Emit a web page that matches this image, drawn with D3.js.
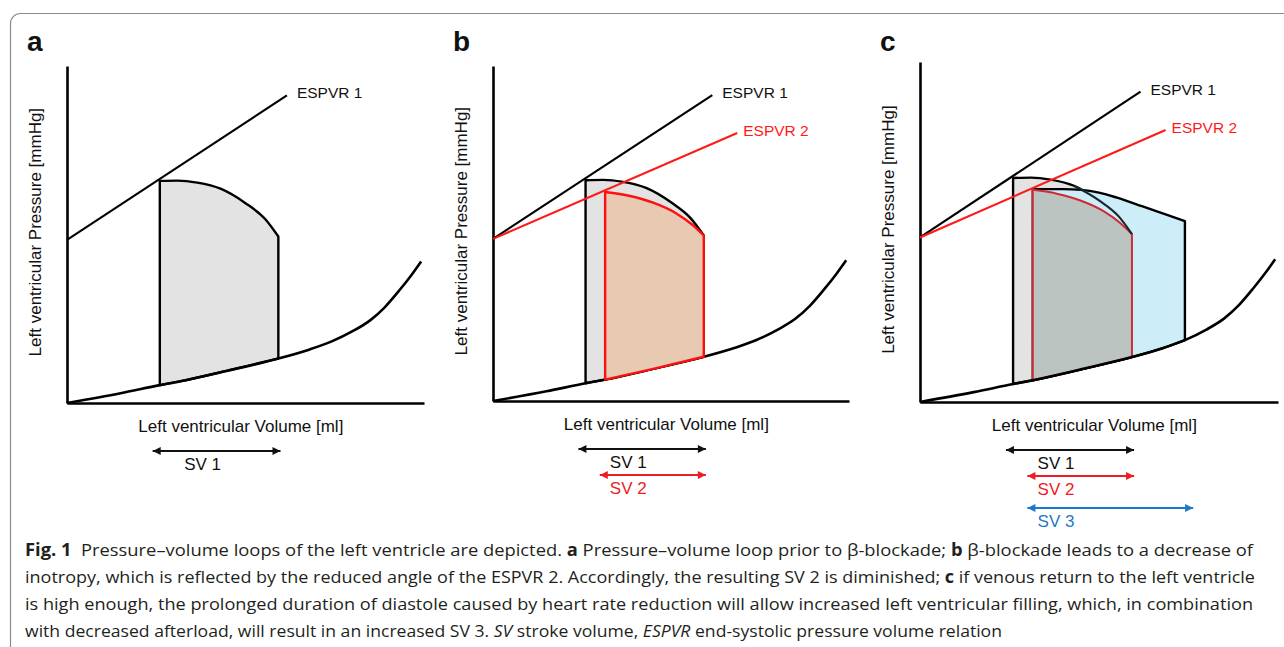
<!DOCTYPE html>
<html>
<head>
<meta charset="utf-8">
<script src="https://cdn.jsdelivr.net/npm/d3@7"></script>
<style>
  body { margin: 0; background: #fff; }
  svg { display: block; }
</style>
</head>
<body>
<div id="chart"></div>
<script>
// volume and pressure in relative units, 0-100 along each axis
const edpvr = [[0, 0], [15, 2.9], [26, 5.3], [31.5, 6.4], [45, 9.6], [59.2, 13.2], [68, 15.9],
  [74, 18.2], [80, 21.3], [85, 24.6], [89, 28.4], [93, 33.3], [96.5, 38], [99.2, 42]]

const espvr1 = [[0, 48.4], [61.6, 91.3]]
const espvr2 = [[0, 48.4], [68.6, 80]]

const loop1Top = [[26, 65.9], [31, 66], [36.5, 65.4], [43, 63.6], [50, 59.3], [55.5, 54.6], [59.2, 49.4]]
const loop2Top = [[31.5, 62.4], [38.5, 61.2], [45, 59.2], [51.5, 56], [56, 52.6], [59.2, 49.4]]
const loop3Top = [[31.5, 62.6], [40, 62.6], [45, 62.4], [50, 61.6], [55, 60.1], [62, 57.6], [68, 55.4], [74, 53.2]]

const strokeVolumes = [
  { label: "SV 1", from: 24, to: 59.8, color: "#111" },
  { label: "SV 2", from: 30, to: 59.8, color: "#ee1c24" },
  { label: "SV 3", from: 30, to: 76.3, color: "#1f78c9" }
]

const captionLines = [
  [["b", "Fig. 1"], ["n", "  Pressure–volume loops of the left ventricle are depicted. "], ["b", "a"], ["n", " Pressure–volume loop prior to β-blockade; "], ["b", "b"], ["n", " β-blockade leads to a decrease of"]],
  [["n", "inotropy, which is reflected by the reduced angle of the ESPVR 2. Accordingly, the resulting SV 2 is diminished; "], ["b", "c"], ["n", " if venous return to the left ventricle"]],
  [["n", "is high enough, the prolonged duration of diastole caused by heart rate reduction will allow increased left ventricular filling, which, in combination"]],
  [["n", "with decreased afterload, will result in an increased SV 3. "], ["i", "SV"], ["n", " stroke volume, "], ["i", "ESPVR"], ["n", " end-systolic pressure volume relation"]]
]
const captionWidths = [1228, 1230, 1228, 977]

const panels = [
  { key: "a", x0: 67, x1: 424, y0: 403, y1: 66, sv: 1 },
  { key: "b", x0: 493, x1: 849, y0: 401, y1: 66, sv: 2 },
  { key: "c", x0: 920, x1: 1278, y0: 402, y1: 62, sv: 3 }
]

const W = 1284, H = 647
const FONT = "'Liberation Sans', Arial, sans-serif"

const svg = d3.select("#chart").append("svg")
  .attr("width", W)
  .attr("height", H)

const defs = svg.append("defs")
strokeVolumes.forEach((s, i) => {
  defs.append("marker")
    .attr("id", "arr" + i)
    .attr("viewBox", "0 0 10 10")
    .attr("refX", 10)
    .attr("refY", 5)
    .attr("markerUnits", "userSpaceOnUse")
    .attr("markerWidth", 9)
    .attr("markerHeight", 8)
    .attr("orient", "auto-start-reverse")
    .append("path")
    .attr("d", "M 0 0 L 10 5 L 0 10 z")
    .attr("fill", s.color)
})

// frame
svg.append("rect")
  .attr("x", 10.5)
  .attr("y", 13.5)
  .attr("width", 1300)
  .attr("height", 680)
  .attr("rx", 10)
  .attr("fill", "none")
  .attr("stroke", "#8a8a8a")
  .attr("stroke-width", 1.2)

function drawPanel(p) {
  const x = d3.scaleLinear().domain([0, 100]).range([p.x0, p.x1])
  const y = d3.scaleLinear().domain([0, 100]).range([p.y0, p.y1])
  const g = svg.append("g")

  const line = d3.line().x(d => x(d[0])).y(d => y(d[1])).curve(d3.curveMonotoneX)
  const straight = d3.line().x(d => x(d[0])).y(d => y(d[1]))

  function loopPath(top) {
    const left = top[0][0], right = top[top.length - 1][0]
    const bottom = edpvr.filter(d => d[0] >= left && d[0] <= right)
    const bl = bottom[0], br = bottom[bottom.length - 1]
    return `M${x(bl[0])},${y(bl[1])}` +
      line(top).replace(/^M/, "L") +
      `L${x(br[0])},${y(br[1])}` +
      line(bottom.slice().reverse()).replace(/^M/, "L") + "Z"
  }

  function drawLoop(top, fill, stroke, width) {
    g.append("path")
      .attr("d", loopPath(top))
      .attr("fill", fill)
      .attr("stroke", stroke)
      .attr("stroke-width", width)
      .attr("stroke-linejoin", "round")
  }

  function drawEdpvr() {
    g.append("path")
      .attr("d", line(edpvr))
      .attr("fill", "none")
      .attr("stroke", "#000")
      .attr("stroke-width", 2.6)
  }

  // axes without ticks
  g.append("g")
    .attr("transform", `translate(0,${p.y0})`)
    .call(d3.axisBottom(x).ticks(0).tickSizeOuter(0))
    .call(a => a.select(".domain").attr("stroke", "#000").attr("stroke-width", 2.6))
  g.append("g")
    .attr("transform", `translate(${p.x0},0)`)
    .call(d3.axisLeft(y).ticks(0).tickSizeOuter(0))
    .call(a => a.select(".domain").attr("stroke", "#000").attr("stroke-width", 2.6))

  if (p.key === "a") {
    drawLoop(loop1Top, "#e3e3e3", "#000", 2.4)
    drawEdpvr()
  } else if (p.key === "b") {
    drawLoop(loop1Top, "#e3e3e3", "#000", 2.4)
    drawEdpvr()
    drawLoop(loop2Top, "#e8cab3", "#ff0f0f", 2.4)
  } else {
    drawLoop(loop1Top, "#e3e3e3", "#000", 2.4)
    drawLoop(loop3Top, "#cdeef9", "#000", 2.4)
    drawLoop(loop2Top, "#bbc4c0", "#cf2b36", 2)
    g.append("path")
      .attr("d", line(loop1Top.filter(d => d[0] >= 43)))
      .attr("fill", "none")
      .attr("stroke", "#142c33")
      .attr("stroke-width", 2.2)
    drawEdpvr()
  }

  // ESPVR lines
  const esp = [{ data: espvr1, label: "ESPVR 1", color: "#000", dx: 10 }]
  if (p.key !== "a") esp.push({ data: espvr2, label: "ESPVR 2", color: "#ff1a1a", dx: 6 })
  esp.forEach(e => {
    g.append("path")
      .attr("d", straight(e.data))
      .attr("fill", "none")
      .attr("stroke", e.color)
      .attr("stroke-width", 2.1)
    const end = e.data[e.data.length - 1]
    g.append("text")
      .attr("x", x(end[0]) + e.dx)
      .attr("y", y(end[1]) + 3)
      .attr("font-family", FONT)
      .attr("font-size", "15.5px")
      .attr("fill", e.color === "#000" ? "#111" : e.color)
      .text(e.label)
  })

  // panel letter
  g.append("text")
    .attr("x", p.x0 - 40)
    .attr("y", 51)
    .attr("font-family", FONT)
    .attr("font-weight", "bold")
    .attr("font-size", "28px")
    .attr("fill", "#111")
    .text(p.key)

  // axis labels
  g.append("text")
    .attr("x", x(48.7))
    .attr("y", p.y0 + 29)
    .attr("text-anchor", "middle")
    .attr("font-family", FONT)
    .attr("font-size", "17px")
    .attr("fill", "#111")
    .text("Left ventricular Volume [ml]")
  g.append("text")
    .attr("transform", `translate(${p.x0 - 26},${y(50.7)}) rotate(-90)`)
    .attr("text-anchor", "middle")
    .attr("font-family", FONT)
    .attr("font-size", "17px")
    .attr("fill", "#111")
    .text("Left ventricular Pressure [mmHg]")

  // stroke volume arrows
  const rowOffsets = [48, 74, 106]
  strokeVolumes.slice(0, p.sv).forEach((s, i) => {
    const yy = p.y0 + rowOffsets[i]
    g.append("line")
      .attr("x1", x(s.from))
      .attr("x2", x(s.to))
      .attr("y1", yy)
      .attr("y2", yy)
      .attr("stroke", s.color)
      .attr("stroke-width", 2)
      .attr("marker-start", `url(#arr${i})`)
      .attr("marker-end", `url(#arr${i})`)
    g.append("text")
      .attr("x", x(38))
      .attr("y", yy + 19)
      .attr("text-anchor", "middle")
      .attr("font-family", FONT)
      .attr("font-size", "17px")
      .attr("fill", s.color)
      .text(s.label)
  })
}

panels.forEach(drawPanel)

// caption
const cap = svg.append("g")
captionLines.forEach((parts, i) => {
  const t = cap.append("text")
    .attr("x", 25)
    .attr("y", 556 + i * 27)
    .attr("font-family", "'Open Sans', 'Noto Sans', sans-serif")
    .attr("font-size", "17px")
    .attr("fill", "#231f20")
    .attr("textLength", captionWidths[i])
    .attr("lengthAdjust", "spacingAndGlyphs")
    .style("white-space", "pre")
  parts.forEach(([style, str]) => {
    const ts = t.append("tspan").text(str)
    if (style === "b") ts.attr("font-weight", "bold")
    if (style === "i") ts.attr("font-style", "italic")
  })
})
</script>
</body>
</html>
